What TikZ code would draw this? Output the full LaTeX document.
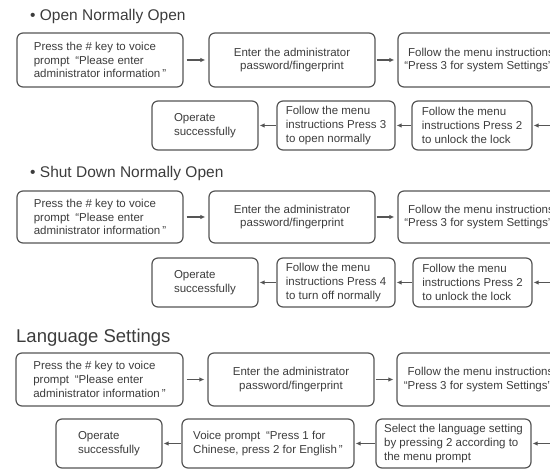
\documentclass[tikz,border=0pt]{standalone}
\usepackage{fontspec}
\setmainfont{Liberation Sans}
\usetikzlibrary{arrows.meta}
\definecolor{inkgray}{HTML}{3C3C3C}
\definecolor{edgegray}{HTML}{555555}
\begin{document}
\begin{tikzpicture}[x=1pt, y=-1pt,
  every node/.style={text=inkgray},
  box/.style={draw=edgegray, line width=1.2pt, rounded corners=6pt, inner sep=0pt,
    align=left, font=\fontsize{11.5}{13.7}\selectfont},
  heading/.style={anchor=base west, inner sep=0pt, font=\fontsize{15.5}{18}\selectfont},
  flow/.style={-{Latex[length=5pt,width=4.5pt]}, draw=edgegray, line width=1.6pt}]
  \useasboundingbox (0,0) rectangle (550,473);
  \clip (0,0) rectangle (550,473);

  % Open normally open
  \node[heading] (h1) at (30,21) {• Open Normally Open};
  \node[box, minimum width=166pt, minimum height=54pt] (a1) at (100,60)
    {Press the \# key to voice\\prompt\enspace“Please enter\\administrator information\,”};
  \node[box, align=center, minimum width=166pt, minimum height=54pt] (b1) at (292,60)
    {Enter the administrator\\password/fingerprint};
  \node[box, minimum width=166pt, minimum height=54pt] (c1) at (481,60)
    {Follow the menu instructions\\\llap{“}Press 3 for system Settings”};
  \node[box, minimum width=106pt, minimum height=49pt] (o1) at (205,125.5) {Operate\\successfully};
  \node[box, minimum width=118pt, minimum height=49pt] (m1) at (336,125.5)
    {Follow the menu\\instructions Press 3\\to open normally};
  \node[box, minimum width=120pt, minimum height=49pt] (u1) at (472,125.5)
    {Follow the menu\\instructions Press 2\\to unlock the lock};
  \coordinate (r1) at (556,125.5);
  \draw[flow, shorten <=3pt, shorten >=3pt] (a1) -- (b1);
  \draw[flow, shorten <=1pt, shorten >=3pt] (b1) -- (c1);
  \draw[flow, shorten >=1pt] (r1) -- (u1);
  \draw[flow, shorten >=1pt] (u1) -- (m1);
  \draw[flow, shorten >=1pt] (m1) -- (o1);

  % Shut down normally open
  \node[heading] (h2) at (30,178) {• Shut Down Normally Open};
  \node[box, minimum width=166pt, minimum height=52pt] (a2) at (100,217)
    {Press the \# key to voice\\prompt\enspace“Please enter\\administrator information\,”};
  \node[box, align=center, minimum width=166pt, minimum height=52pt] (b2) at (292,217)
    {Enter the administrator\\password/fingerprint};
  \node[box, minimum width=166pt, minimum height=52pt] (c2) at (481,217)
    {Follow the menu instructions\\\llap{“}Press 3 for system Settings”};
  \node[box, minimum width=106pt, minimum height=49pt] (o2) at (205,282.5) {Operate\\successfully};
  \node[box, minimum width=118pt, minimum height=49pt] (m2) at (336,282.5)
    {Follow the menu\\instructions Press 4\\to turn off normally};
  \node[box, minimum width=119pt, minimum height=49pt] (u2) at (472.5,282.5)
    {Follow the menu\\instructions Press 2\\to unlock the lock};
  \coordinate (r2) at (556,282.5);
  \draw[flow, shorten <=3pt, shorten >=3pt] (a2) -- (b2);
  \draw[flow, shorten <=1pt, shorten >=3pt] (b2) -- (c2);
  \draw[flow, shorten >=1pt] (r2) -- (u2);
  \draw[flow, shorten >=1pt] (u2) -- (m2);
  \draw[flow, shorten >=1pt] (m2) -- (o2);

  % Language settings
  \node[heading, font=\fontsize{18.5}{22}\selectfont] (h3) at (16,343) {Language Settings};
  \node[box, minimum width=167pt, minimum height=53pt] (a3) at (99.5,379.5)
    {Press the \# key to voice\\prompt\enspace“Please enter\\administrator information\,”};
  \node[box, align=center, minimum width=166pt, minimum height=53pt] (b3) at (291,379.5)
    {Enter the administrator\\password/fingerprint};
  \node[box, minimum width=167pt, minimum height=53pt] (c3) at (480.5,379.5)
    {Follow the menu instructions\\\llap{“}Press 3 for system Settings”};
  \node[box, minimum width=106pt, minimum height=49pt] (o3) at (109,443.5) {Operate\\successfully};
  \node[box, minimum width=172pt, minimum height=49pt] (v3) at (268,443.5)
    {Voice prompt\enspace“Press 1 for\\Chinese, press 2 for English\,”};
  \node[box, minimum width=155pt, minimum height=49pt] (l3) at (453.5,443.5)
    {Select the language setting\\by pressing 2 according to\\the menu prompt};
  \coordinate (r3) at (556,443.5);
  \draw[flow, shorten <=3pt, shorten >=3pt] (a3) -- (b3);
  \draw[flow, shorten <=1pt, shorten >=3pt] (b3) -- (c3);
  \draw[flow, shorten >=1pt] (r3) -- (l3);
  \draw[flow, shorten >=1pt] (l3) -- (v3);
  \draw[flow, shorten >=1pt] (v3) -- (o3);
\end{tikzpicture}
\end{document}
